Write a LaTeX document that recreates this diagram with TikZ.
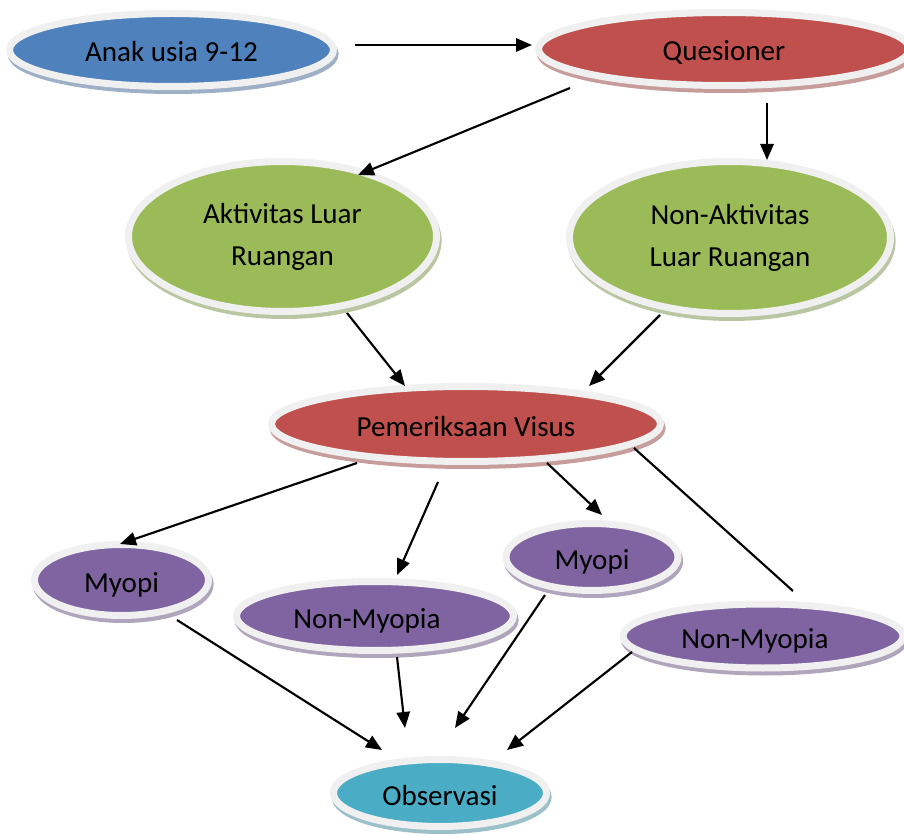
\documentclass[tikz,border=0pt]{standalone}
\usepackage{fontspec}
\setmainfont{Carlito}
\usetikzlibrary{shapes.geometric,arrows.meta}
\definecolor{cblue}{HTML}{4F81BD}
\definecolor{cred}{HTML}{C0504D}
\definecolor{cgreen}{HTML}{9BBB59}
\definecolor{cpurple}{HTML}{8064A2}
\definecolor{cteal}{HTML}{4BACC6}
\definecolor{rimgray}{HTML}{F0F0F0}
\tikzset{
  bubble/.style={ellipse, draw=rimgray, line width=5.25pt, fill=#1, inner sep=0pt,
    font=\fontsize{21.8}{31.5}\selectfont, align=center, text=black,
    preaction={draw=#1!50!white!75!gray, fill=#1!50!white!75!gray, line width=5.25pt,
      transform canvas={shift={(1.2pt,-3pt)}}}},
  oneline/.style={text height=18pt, text depth=0pt},
  sz/.style 2 args={minimum width=#1*0.75pt, minimum height=#2*0.75pt},
  link/.style={line width=1.6pt, -{Triangle[length=12pt,width=10pt]}},
  plainlink/.style={line width=1.6pt}
}
\begin{document}
\begin{tikzpicture}[x=0.75pt,y=-0.75pt]
\useasboundingbox (0,0) rectangle (904,834);
\clip (0,0) rectangle (904,834);
% nodes
\node[bubble=cblue, oneline, sz={324}{73}] (anak) at (171.5,50) {Anak usia 9-12};
\node[bubble=cred, oneline, sz={371}{73}] (ques) at (724,49) {Quesioner};
\node[bubble=cgreen, sz={308}{150}] (akt) at (282.5,236.5) {Aktivitas Luar\\Ruangan};
\node[bubble=cgreen, sz={321}{152}] (nonakt) at (730,237.5) {Non-Aktivitas\\Luar Ruangan};
\node[bubble=cred, oneline, sz={389}{75}] (pem) at (466,424) {Pemeriksaan Visus};
\node[bubble=cpurple, oneline, sz={174}{71}] (myL) at (121.5,580) {Myopi};
\node[bubble=cpurple, oneline, sz={277}{69}] (nmL) at (375,616) {Non-Myopia\kern12pt};
\node[bubble=cpurple, oneline, sz={172}{67}] (myR) at (592,557) {Myopi};
\node[bubble=cpurple, oneline, sz={280}{64}] (nmR) at (763,636) {Non-Myopia\kern12pt};
\node[bubble=cteal, oneline, sz={213}{67}] (obs) at (440,793) {Observasi};
% connector ends
\coordinate (a1s) at (355,45);  \coordinate (a1e) at (532,45);
\coordinate (a2s) at (570,88);  \coordinate (a2e) at (358,175);
\coordinate (a3s) at (767,103); \coordinate (a3e) at (767,160);
\coordinate (a4s) at (347,313); \coordinate (a4e) at (405,386);
\coordinate (a5s) at (660,315); \coordinate (a5e) at (589,386);
\coordinate (a6s) at (357,463); \coordinate (a6e) at (120,544);
\coordinate (a7s) at (438,482); \coordinate (a7e) at (397,575);
\coordinate (a8s) at (547,463); \coordinate (a8e) at (602,515);
\coordinate (a9s) at (634,448); \coordinate (a9e) at (793,591);
\coordinate (b1s) at (177,620); \coordinate (b1e) at (382,750);
\coordinate (b2s) at (397,657); \coordinate (b2e) at (405,728);
\coordinate (b3s) at (545,595); \coordinate (b3e) at (455,728);
\coordinate (b4s) at (632,652); \coordinate (b4e) at (507,750);
% connectors
\draw[link] (a1s) -- (a1e);
\draw[link] (a2s) -- (a2e);
\draw[link] (a3s) -- (a3e);
\draw[link] (a4s) -- (a4e);
\draw[link] (a5s) -- (a5e);
\draw[link] (a6s) -- (a6e);
\draw[link] (a7s) -- (a7e);
\draw[link] (a8s) -- (a8e);
\draw[plainlink] (a9s) -- (a9e);
\draw[link] (b1s) -- (b1e);
\draw[link] (b2s) -- (b2e);
\draw[link] (b3s) -- (b3e);
\draw[link] (b4s) -- (b4e);
\end{tikzpicture}
\end{document}
